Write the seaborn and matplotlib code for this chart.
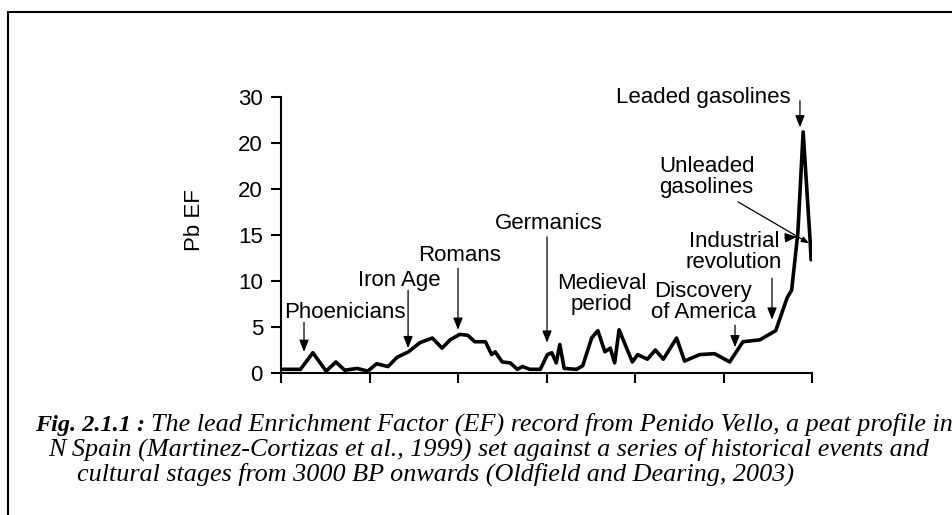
import matplotlib
matplotlib.use("Agg")
import matplotlib.pyplot as plt
from matplotlib.lines import Line2D
import seaborn as sns
import pandas as pd

# Pb EF record, years AD (negative = BC)
years = [-990, -890, -820, -745, -690, -640, -570, -510, -460, -395,
         -345, -280, -215, -145, -90, -45, 10, 55, 95, 155,
         190, 210, 250, 295, 335, 365, 405, 465, 505, 530,
         555, 575, 600, 670, 705, 755, 790, 830, 860, 885,
         910, 985, 1015, 1070, 1115, 1160, 1235, 1280, 1365, 1450,
         1535, 1610, 1705, 1795, 1860, 1885, 1920, 1950, 1990, 1995]
pb_ef = [0.4, 0.4, 2.2, 0.2, 1.2, 0.3, 0.5, 0.2, 1.0, 0.7,
         1.7, 2.3, 3.3, 3.8, 2.7, 3.6, 4.2, 4.1, 3.4, 3.4,
         2.0, 2.3, 1.2, 1.1, 0.4, 0.7, 0.4, 0.4, 2.0, 2.2,
         1.1, 3.1, 0.5, 0.4, 0.8, 3.8, 4.6, 2.3, 2.7, 1.1,
         4.7, 1.2, 2.0, 1.5, 2.5, 1.5, 3.8, 1.3, 2.0, 2.1,
         1.2, 3.4, 3.6, 4.6, 8.2, 9.0, 15.2, 26.2, 14.2, 12.3]

y_ticks = [0, 5, 10, 15, 20, 25, 30]
y_tick_labels = ["0", "5", "10", "15", "20", "20", "30"]
x_ticks = [-1000, -500, 0, 500, 1000, 1500, 2000]

event_labels = ["Phoenicians", "Iron Age", "Romans", "Germanics",
                "Medieval\nperiod", "Discovery\nof America",
                "Industrial\nrevolution", "Unleaded\ngasolines",
                "Leaded gasolines"]

caption_bold = "Fig. 2.1.1 :"
caption_lines = [
    "The lead Enrichment Factor (EF) record from Penido Vello, a peat profile in",
    "N Spain (Martinez-Cortizas et al., 1999) set against a series of historical events and",
    "cultural stages from 3000 BP onwards (Oldfield and Dearing, 2003)",
]

df = pd.DataFrame({"year": years, "pb_ef": pb_ef})

sns.set_theme(style="ticks")
plt.rcParams['font.family'] = ['Liberation Sans', 'DejaVu Sans']

W, H = 952, 515
fig = plt.figure(figsize=(W / 100, H / 100), dpi=100)
fig.patch.set_facecolor("white")

# axes box in pixels: x 281..812, y 97..373
ax = fig.add_axes([281 / W, 1 - 373 / H, 531 / W, 276 / H])
ax.set_facecolor("white")

sns.lineplot(data=df, x="year", y="pb_ef", ax=ax, color="black", linewidth=2.6)

ax.set_xlim(-1000, 2000)
ax.set_ylim(0, 30)
ax.set_xticks(x_ticks)
ax.set_xticklabels([])
ax.set_yticks(y_ticks)
ax.set_yticklabels(y_tick_labels)
ax.set_xlabel("")
ax.set_ylabel("Pb EF", fontsize=16, color="black")
ax.yaxis.set_label_coords(-0.143, 0.554)
sns.despine(ax=ax)
for s in ["left", "bottom"]:
    ax.spines[s].set_linewidth(1.5)
    ax.spines[s].set_color("black")
ax.tick_params(axis="both", direction="out", length=7, width=1.5,
               color="black", labelcolor="black", labelsize=16)
ax.tick_params(axis="y", pad=6)

# event labels (year, EF) and their arrows (tail -> head)
label_pos = [(-640, 6.6), (-330, 10.1), (10, 12.8), (510, 16.2), (810, 8.6),
             (1385, 7.7), (1560, 13.2), (1405, 21.25), (1385, 29.9)]
for lab, (lx, ly) in zip(event_labels, label_pos):
    ax.text(lx, ly, lab, ha="center", va="center", fontsize=16,
            color="black", linespacing=1.0, multialignment="center")

arrows = [((-870, 5.5), (-870, 2.3), 13),
          ((-282, 9.0), (-282, 2.7), 13),
          ((0, 11.4), (0, 4.7), 13),
          ((503, 14.8), (503, 3.3), 13),
          ((1565, 5.2), (1565, 2.8), 13),
          ((1774, 10.3), (1774, 5.8), 13),
          ((1847, 14.7), (1915, 14.8), 13),
          ((1582, 18.6), (1983, 14.1), 8),
          ((1932, 29.6), (1932, 26.7), 13)]
for tail, head, ms in arrows:
    ax.annotate("", xy=head, xytext=tail,
                arrowprops=dict(arrowstyle="-|>,head_length=0.55,head_width=0.22",
                                color="black", lw=0.9, mutation_scale=ms,
                                shrinkA=0, shrinkB=0))

# frame lines (top and left) of the figure box
fig.add_artist(Line2D([7.5 / W, 1], [1 - 11.5 / H, 1 - 11.5 / H],
                      transform=fig.transFigure, color="black", lw=1.5))
fig.add_artist(Line2D([7.5 / W, 7.5 / W], [0, 1 - 11.5 / H],
                      transform=fig.transFigure, color="black", lw=1.5))

# caption, sized so the second line spans about 883 px
renderer = fig.canvas.get_renderer()
cap_size = 17.0
probe = fig.text(0, 0, caption_lines[1], fontsize=cap_size,
                 family="Liberation Serif", style="italic")
cap_size *= 883 / probe.get_window_extent(renderer).width
probe.remove()

t_bold = fig.text(35 / W, 1 - 431 / H, caption_bold, fontsize=cap_size * 0.93,
                  family="Liberation Serif", style="italic", weight="bold",
                  ha="left", va="baseline", color="black")
x_end = t_bold.get_window_extent(renderer).x1
fig.text((x_end + 6) / W, 1 - 431 / H, caption_lines[0], fontsize=cap_size,
         family="Liberation Serif", style="italic", ha="left", va="baseline",
         color="black")
fig.text(48 / W, 1 - 456 / H, caption_lines[1], fontsize=cap_size,
         family="Liberation Serif", style="italic", ha="left", va="baseline",
         color="black")
fig.text(77 / W, 1 - 481 / H, caption_lines[2], fontsize=cap_size,
         family="Liberation Serif", style="italic", ha="left", va="baseline",
         color="black")

fig.savefig("out.png", dpi=100, facecolor="white")
